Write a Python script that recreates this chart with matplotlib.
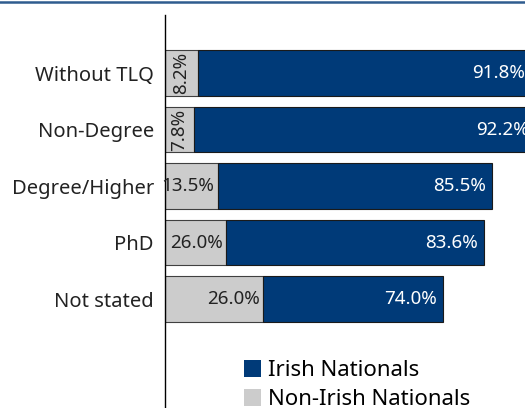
import matplotlib.pyplot as plt
from matplotlib.patches import Patch
from matplotlib.lines import Line2D

plt.rcParams['font.family'] = ['Noto Sans', 'DejaVu Sans']

categories = ['Without TLQ', 'Non-Degree', 'Degree/Higher', 'PhD', 'Not stated']
# bar lengths as drawn in the picture (they do not follow the printed labels)
non_irish_len = [8.4, 7.4, 13.5, 15.5, 24.9]
irish_len = [84.5, 86.5, 69.7, 65.6, 45.8]
non_irish_lbl = ['8.2%', '7.8%', '13.5%', '26.0%', '26.0%']
irish_lbl = ['91.8%', '92.2%', '85.5%', '83.6%', '74.0%']

blue = '#003a78'
grey = '#cccccc'

fig = plt.figure(figsize=(5.25, 4.08), dpi=100)
ax = fig.add_axes([165 / 525, 0, 360 / 525, 393 / 408])

y = list(range(len(categories)))
ax.barh(y, non_irish_len, height=0.81, color=grey, edgecolor='#404040', linewidth=0.8)
ax.barh(y, irish_len, left=non_irish_len, height=0.81, color=blue,
        edgecolor='#1a1a1a', linewidth=0.8)

for i in y:
    g = non_irish_len[i]
    if g < 10:
        ax.text(g / 2, i, non_irish_lbl[i], rotation=90, ha='center', va='center',
                fontsize=13.5, color='#222222')
    else:
        ax.annotate(non_irish_lbl[i], (g, i), xytext=(-2.5, 0), textcoords='offset points',
                    ha='right', va='center', fontsize=13.5, color='#222222')
    ax.annotate(irish_lbl[i], (g + irish_len[i], i), xytext=(-4, 0),
                textcoords='offset points', ha='right', va='center',
                fontsize=13.5, color='white', annotation_clip=False)

ax.set_yticks(y)
ax.set_yticklabels(categories, fontsize=14.5, color='#222222')
ax.tick_params(axis='y', length=0, pad=8)
ax.set_xticks([])
ax.set_xlim(0, 91.6)
ax.set_ylim(5.93, -1.03)
for s in ['top', 'right', 'bottom']:
    ax.spines[s].set_visible(False)
ax.spines['left'].set_linewidth(1.0)

fig.add_artist(Line2D([0, 1], [1 - 2 / 408, 1 - 2 / 408], color='#2f5c8f', lw=1.8))

handles = [Patch(facecolor=blue, label='Irish Nationals'),
           Patch(facecolor=grey, label='Non-Irish Nationals')]
fig.legend(handles=handles, loc='upper left', bbox_to_anchor=(228 / 525, 1 - 344 / 408),
           frameon=False, fontsize=16, handlelength=0.8, handleheight=0.8,
           handletextpad=0.3, labelspacing=0.35, borderpad=0.2)

fig.savefig('out.png', dpi=100)
